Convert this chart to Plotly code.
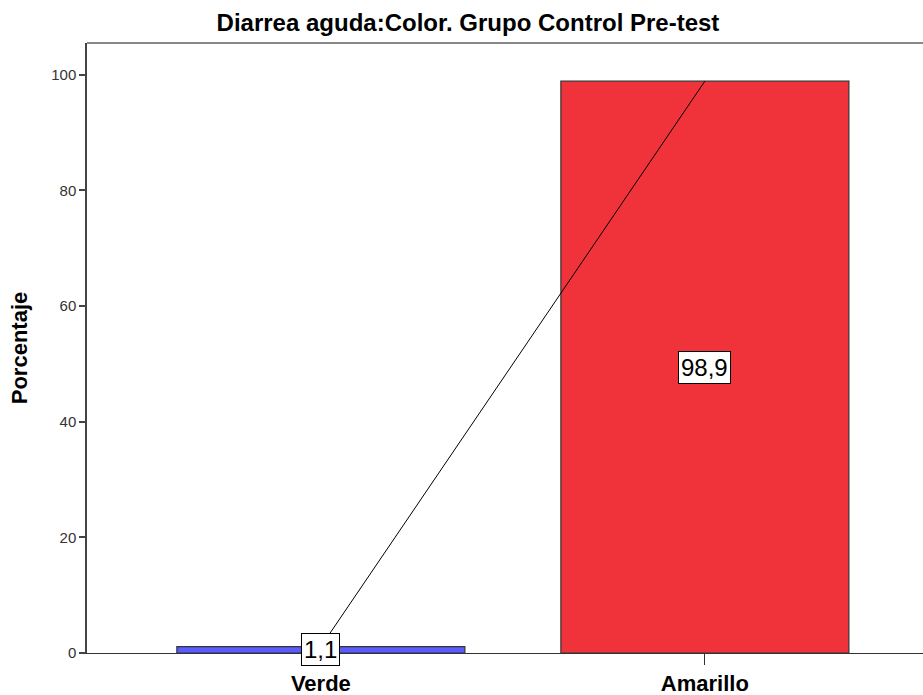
import plotly.graph_objects as go

categories = ["Verde", "Amarillo"]
values = [1.1, 98.9]
labels = ["1,1", "98,9"]
colors = ["#5a5cff", "#f0333b"]
y_ticks = [0, 20, 40, 60, 80, 100]

FONT = "Liberation Sans, Arial"

fig = go.Figure()
fig.add_trace(go.Bar(
    x=categories, y=values, width=0.75,
    marker=dict(color=colors, line=dict(color="#333333", width=1.2)),
    showlegend=False, hoverinfo="skip"))
fig.add_trace(go.Scatter(
    x=categories, y=values, mode="lines",
    line=dict(color="black", width=1), showlegend=False, hoverinfo="skip"))

for c, v, t in zip(categories, values, labels):
    fig.add_annotation(x=c, y=v / 2, text=t, showarrow=False,
                       font=dict(family=FONT, size=24, color="black"),
                       bgcolor="white", bordercolor="black", borderwidth=1, borderpad=2)

fig.add_shape(type="line", xref="paper", yref="paper", x0=0, x1=1, y0=1, y1=1,
              line=dict(color="#888888", width=2))

fig.update_layout(
    width=923, height=695,
    margin=dict(l=87, r=0, t=43, b=42, autoexpand=False),
    paper_bgcolor="white", plot_bgcolor="white",
    title=dict(text="<b>Diarrea aguda:Color. Grupo Control Pre-test</b>",
               x=0.507, xanchor="center", y=0.967, yanchor="middle",
               font=dict(family=FONT, size=24, color="black")),
    bargap=0.25,
)
fig.update_xaxes(
    range=[-0.609, 1.568], showline=True, linecolor="#333333", linewidth=1,
    ticks="outside", ticklen=11, tickcolor="#333333", tickwidth=1,
    tickfont=dict(family=FONT, size=22, color="black"),
    showgrid=False, zeroline=False, fixedrange=True, automargin=False,
    tickprefix="<b>", ticksuffix="</b>")
fig.update_yaxes(
    range=[0, 105.5], tickvals=y_ticks, ticktext=[str(v) for v in y_ticks],
    showline=True, linecolor="#444444", linewidth=1.5,
    ticks="outside", ticklen=6, tickcolor="#444444", tickwidth=1.5,
    tickfont=dict(family=FONT, size=15, color="#333333"),
    showgrid=False, zeroline=False, automargin=False,
    title=dict(text="<b>Porcentaje</b>", standoff=18,
               font=dict(family=FONT, size=22, color="black")))

fig.write_html("out.html")
